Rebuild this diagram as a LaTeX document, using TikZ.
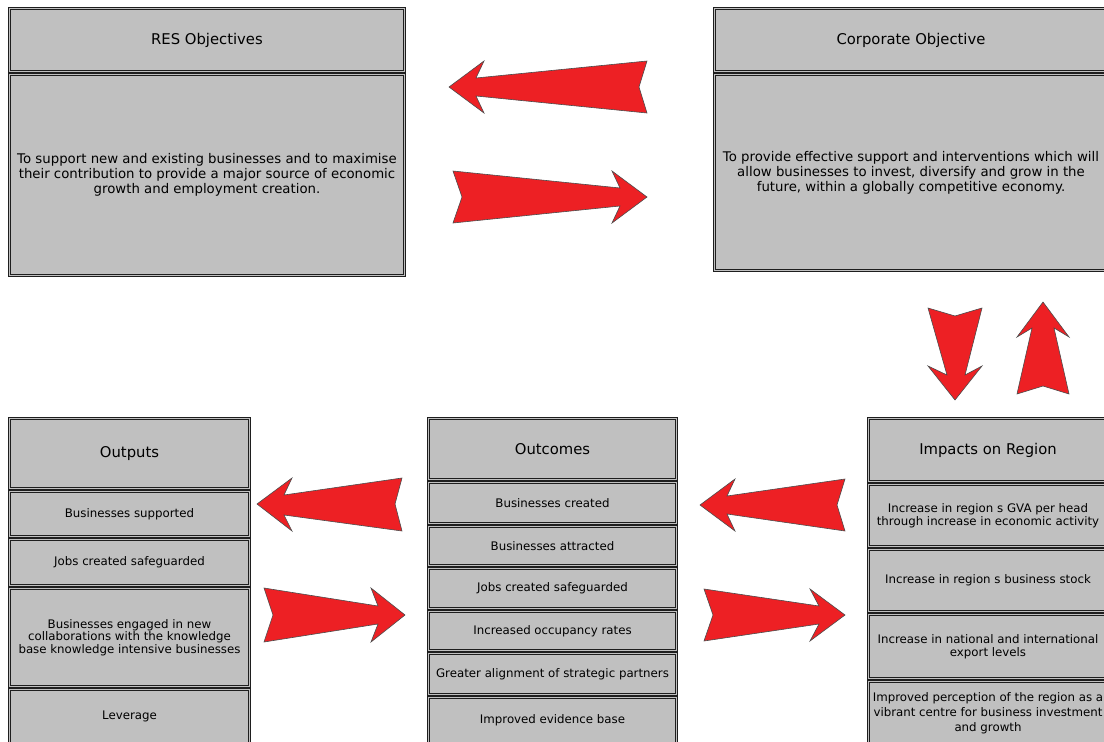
\documentclass[tikz,border=0pt]{standalone}
\usepackage{fontspec}
\setmainfont{DejaVu Sans}
\usepackage{tikz}
\definecolor{cellgray}{HTML}{C0C0C0}
\definecolor{arrowred}{HTML}{ED2024}
\definecolor{edgegray}{HTML}{1E1E1E}
\tikzset{
    cell/.style={rectangle, draw=edgegray, line width=0.7pt, double=cellgray, double distance=1.6pt, fill=cellgray, inner sep=0pt, outer sep=0pt, align=center, text=black},
    headtext/.style={font=\fontsize{14.8}{17}\selectfont},
    bodytext/.style={font=\fontsize{13.3}{15}\selectfont},
    celltext/.style={font=\fontsize{11.8}{12.5}\selectfont},
    redarrow/.style={fill=arrowred, draw=black!70, line width=0.6pt, line join=miter}
}

\begin{document}
\begin{tikzpicture}[x=1pt, y=-1pt]
            \useasboundingbox (0,0) rectangle (1104,742);
            \clip (0,0) rectangle (1104,742);

            \node[cell, headtext, minimum width=395, minimum height=63] (reshead) at (207,40) {RES Objectives};
            \node[cell, bodytext, minimum width=395, minimum height=201] (resbody) at (207,175) {To support new and existing businesses and to maximise\\their contribution to provide a major source of economic\\growth and employment creation.};

            \node[cell, headtext, minimum width=393, minimum height=63] (corphead) at (911,40) {Corporate Objective};
            \node[cell, bodytext, minimum width=393, minimum height=196] (corpbody) at (911,172.5) {To provide effective support and interventions which will\\allow businesses to invest, diversify and grow in the\\future, within a globally competitive economy.};

            \node[cell, headtext, minimum width=240, minimum height=70] (outhead) at (129.5,453.5) {Outputs};
            \node[cell, celltext, minimum width=240, minimum height=45] (out1) at (129.5,514) {Businesses supported};
            \node[cell, celltext, minimum width=240, minimum height=46] (out2) at (129.5,562.5) {Jobs created safeguarded};
            \node[cell, celltext, minimum width=240, minimum height=98] (out3) at (129.5,637.5) {Businesses engaged in new\\collaborations with the knowledge\\base knowledge intensive businesses};
            \node[cell, celltext, minimum width=240, minimum height=54] (out4) at (129.5,716.5) {Leverage};

            \node[cell, headtext, minimum width=248, minimum height=61] (ochead) at (552.5,449) {Outcomes};
            \node[cell, celltext, minimum width=248, minimum height=41] (oc1) at (552.5,503) {Businesses created};
            \node[cell, celltext, minimum width=248, minimum height=39] (oc2) at (552.5,546) {Businesses attracted};
            \node[cell, celltext, minimum width=248, minimum height=40] (oc3) at (552.5,588.5) {Jobs created safeguarded};
            \node[cell, celltext, minimum width=248, minimum height=39] (oc4) at (552.5,631) {Increased occupancy rates};
            \node[cell, celltext, minimum width=248, minimum height=41] (oc5) at (552.5,674) {Greater alignment of strategic partners};
            \node[cell, celltext, minimum width=248, minimum height=46] (oc6) at (552.5,720.5) {Improved evidence base};

            \node[cell, headtext, minimum width=239, minimum height=63] (imphead) at (988,450) {Impacts on Region};
            \node[cell, celltext, minimum width=239, minimum height=62] (imp1) at (988,515.5) {Increase in region s GVA per head\\through increase in economic activity};
            \node[cell, celltext, minimum width=239, minimum height=62] (imp2) at (988,580.5) {Increase in region s business stock};
            \node[cell, celltext, minimum width=239, minimum height=64] (imp3) at (988,646.5) {Increase in national and international\\export levels};
            \node[cell, celltext, minimum width=239, minimum height=63, font=\fontsize{11.8}{15}\selectfont] (imp4) at (988,713) {Improved perception of the region as a\\vibrant centre for business investment\\and growth};

            \draw[redarrow] (449,87) -- (484,61) -- (476,78) -- (647,61) -- (639,87) -- (647,113) -- (476,96) -- (484,113) -- cycle;
            \draw[redarrow] (453,171) -- (462,197) -- (453,223) -- (620,206) -- (612,223) -- (647,197) -- (612,171) -- (620,188) -- cycle;
            \draw[redarrow] (928,308) -- (955,316) -- (982,308) -- (965,375) -- (982,366) -- (955,400) -- (928,366) -- (947,375) -- cycle;
            \draw[redarrow] (1043,302) -- (1069,337) -- (1054,328) -- (1069,394) -- (1043,386) -- (1017,394) -- (1032,328) -- (1017,337) -- cycle;
            \draw[redarrow] (257,504) -- (292,478) -- (284,495) -- (402,478) -- (395,504) -- (402,531) -- (284,515) -- (292,531) -- cycle;
            \draw[redarrow] (264,588) -- (273,615) -- (264,642) -- (378,624) -- (371,642) -- (405,615) -- (371,588) -- (378,606) -- cycle;
            \draw[redarrow] (700,505) -- (735,479) -- (727,496) -- (845,479) -- (837,505) -- (845,531) -- (727,514) -- (735,531) -- cycle;
            \draw[redarrow] (704,589) -- (713,615) -- (704,641) -- (819,624) -- (810,641) -- (845,615) -- (810,589) -- (819,606) -- cycle;
\end{tikzpicture}
\end{document}
